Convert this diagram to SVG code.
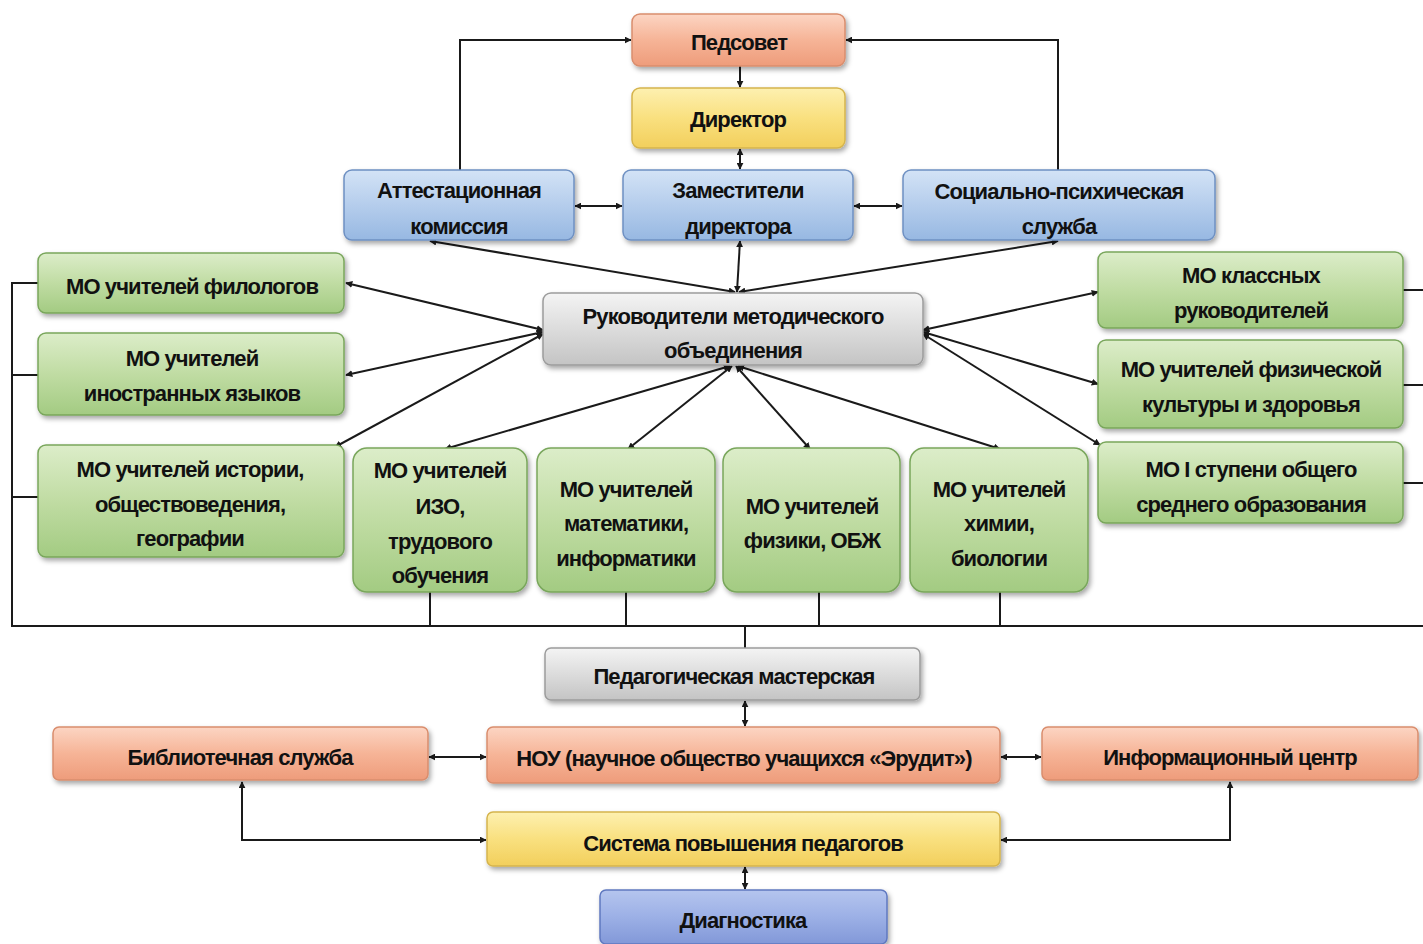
<svg xmlns="http://www.w3.org/2000/svg" width="1423" height="944" viewBox="0 0 1423 944">
<defs>
<linearGradient id="gSalmon" x1="0" y1="0" x2="0" y2="1"><stop offset="0" stop-color="#fcd5c3"/><stop offset="0.5" stop-color="#f6b497"/><stop offset="1" stop-color="#ee9c7b"/></linearGradient>
<linearGradient id="gYellow" x1="0" y1="0" x2="0" y2="1"><stop offset="0" stop-color="#fdf0b0"/><stop offset="0.5" stop-color="#f9e07f"/><stop offset="1" stop-color="#f2cf5c"/></linearGradient>
<linearGradient id="gBlue" x1="0" y1="0" x2="0" y2="1"><stop offset="0" stop-color="#d3e3f6"/><stop offset="0.5" stop-color="#b5cdec"/><stop offset="1" stop-color="#97b8e2"/></linearGradient>
<linearGradient id="gGreen" x1="0" y1="0" x2="0" y2="1"><stop offset="0" stop-color="#dcedc9"/><stop offset="0.5" stop-color="#c0dca3"/><stop offset="1" stop-color="#a3cb82"/></linearGradient>
<linearGradient id="gGray" x1="0" y1="0" x2="0" y2="1"><stop offset="0" stop-color="#f4f4f4"/><stop offset="0.5" stop-color="#dcdcdc"/><stop offset="1" stop-color="#c4c4c4"/></linearGradient>
<linearGradient id="gPeri" x1="0" y1="0" x2="0" y2="1"><stop offset="0" stop-color="#b5c5ee"/><stop offset="0.5" stop-color="#9cb0e6"/><stop offset="1" stop-color="#8298d8"/></linearGradient>
<filter id="sh" x="-10%" y="-20%" width="125%" height="150%"><feDropShadow dx="2" dy="3" stdDeviation="2.5" flood-color="#000" flood-opacity="0.35"/></filter>
<marker id="ah" viewBox="0 0 10 10" refX="9" refY="5" markerWidth="7" markerHeight="7" markerUnits="userSpaceOnUse" orient="auto-start-reverse"><path d="M0,0 L10,5 L0,10 z" fill="#1a1a1a"/></marker>
</defs>
<style>
.salmon{fill:url(#gSalmon);stroke:#d98d6d;stroke-width:1.5}
.yellow{fill:url(#gYellow);stroke:#d5b44d;stroke-width:1.5}
.blue{fill:url(#gBlue);stroke:#6e90c2;stroke-width:1.5}
.green{fill:url(#gGreen);stroke:#79a65b;stroke-width:1.5}
.gray{fill:url(#gGray);stroke:#9c9c9c;stroke-width:1.5}
.peri{fill:url(#gPeri);stroke:#5f78c0;stroke-width:1.5}
.box{filter:url(#sh)}
text{font-family:"Liberation Sans","DejaVu Sans",sans-serif;font-weight:bold;font-size:22px;fill:#111111;text-anchor:middle;letter-spacing:-0.9px}
.ln{fill:none;stroke:#1a1a1a;stroke-width:2}
.ar{fill:none;stroke:#1a1a1a;stroke-width:2;marker-end:url(#ah)}
.da{fill:none;stroke:#1a1a1a;stroke-width:2;marker-start:url(#ah);marker-end:url(#ah)}
</style>
<rect width="1423" height="944" fill="#ffffff"/>

<g id="connectors">
<path class="ar" d="M460,170 V40 H631"/>
<path class="ar" d="M1058,170 V40 H846"/>
<path class="ar" d="M740,66 V87"/>
<path class="da" d="M740,149 V169"/>
<path class="da" d="M575,206 H622"/>
<path class="da" d="M854,206 H902"/>
<path class="da" d="M735,292 L430,241"/>
<path class="da" d="M737,292 L740,241"/>
<path class="da" d="M739,292 L1058,241"/>
<path class="da" d="M543,330 L346,283"/>
<path class="da" d="M543,332 L346,375"/>
<path class="da" d="M543,334 L335,447"/>
<path class="da" d="M730,366 L445,449"/>
<path class="da" d="M732,366 L628,449"/>
<path class="da" d="M736,366 L810,449"/>
<path class="da" d="M738,366 L1000,449"/>
<path class="da" d="M923,330 L1098,292"/>
<path class="da" d="M923,332 L1098,384"/>
<path class="da" d="M923,334 L1100,445"/>
<path class="ln" d="M38,283 H12 V626 H1423"/>
<path class="ln" d="M38,375 H12"/>
<path class="ln" d="M38,497 H12"/>
<path class="ln" d="M430,592 V626"/>
<path class="ln" d="M626,592 V626"/>
<path class="ln" d="M819,592 V626"/>
<path class="ln" d="M1000,592 V626"/>
<path class="ln" d="M1403,290 H1423"/>
<path class="ln" d="M1403,385 H1423"/>
<path class="ln" d="M1403,483 H1423"/>
<path class="ln" d="M745,626 V648"/>
<path class="da" d="M745,701 V726"/>
<path class="da" d="M429,757 H486"/>
<path class="da" d="M1001,757 H1041"/>
<path class="da" d="M745,867 V889"/>
<path class="da" d="M242,782 V840 H486"/>
<path class="da" d="M1230,782 V840 H1001"/>
</g>

<g id="pedsovet"><rect class="box salmon" x="632" y="14" width="213" height="52" rx="8"/><text x="739" y="50">Педсовет</text></g>
<g id="director"><rect class="box yellow" x="632" y="88" width="213" height="60" rx="8"/><text x="738" y="127">Директор</text></g>
<g id="attest"><rect class="box blue" x="344" y="170" width="230" height="70" rx="8"/><text x="459" y="198">Аттестационная</text><text x="459" y="234">комиссия</text></g>
<g id="zam"><rect class="box blue" x="623" y="170" width="230" height="70" rx="8"/><text x="738" y="198">Заместители</text><text x="738" y="234">директора</text></g>
<g id="social"><rect class="box blue" x="903" y="170" width="312" height="70" rx="8"/><text x="1059" y="199">Социально-психическая</text><text x="1059" y="234">служба</text></g>

<g id="rukov"><rect class="box gray" x="543" y="293" width="380" height="72" rx="8"/><text x="733" y="324">Руководители методического</text><text x="733" y="358">объединения</text></g>

<g id="mo-filol"><rect class="box green" x="38" y="253" width="306" height="60" rx="8"/><text x="192" y="294">МО учителей филологов</text></g>
<g id="mo-inostr"><rect class="box green" x="38" y="333" width="306" height="82" rx="8"/><text x="192" y="366">МО учителей</text><text x="192" y="401">иностранных языков</text></g>
<g id="mo-istor"><rect class="box green" x="38" y="445" width="306" height="112" rx="8"/><text x="190" y="477">МО учителей истории,</text><text x="190" y="512">обществоведения,</text><text x="190" y="546">географии</text></g>

<g id="mo-izo"><rect class="box green" x="353" y="448" width="174" height="144" rx="14"/><text x="440" y="478">МО учителей</text><text x="440" y="514">ИЗО,</text><text x="440" y="549">трудового</text><text x="440" y="583">обучения</text></g>
<g id="mo-math"><rect class="box green" x="537" y="448" width="178" height="144" rx="14"/><text x="626" y="497">МО учителей</text><text x="626" y="531">математики,</text><text x="626" y="566">информатики</text></g>
<g id="mo-phys"><rect class="box green" x="723" y="448" width="177" height="144" rx="14"/><text x="812" y="514">МО учителей</text><text x="812" y="548">физики, ОБЖ</text></g>
<g id="mo-chem"><rect class="box green" x="910" y="448" width="178" height="144" rx="14"/><text x="999" y="497">МО учителей</text><text x="999" y="531">химии,</text><text x="999" y="566">биологии</text></g>

<g id="mo-class"><rect class="box green" x="1098" y="252" width="305" height="76" rx="8"/><text x="1251" y="283">МО классных</text><text x="1251" y="318">руководителей</text></g>
<g id="mo-fizkult"><rect class="box green" x="1098" y="340" width="305" height="88" rx="8"/><text x="1251" y="377">МО учителей физической</text><text x="1251" y="412">культуры и здоровья</text></g>
<g id="mo-stup"><rect class="box green" x="1098" y="442" width="305" height="81" rx="8"/><text x="1251" y="477">МО I ступени общего</text><text x="1251" y="512">среднего образования</text></g>

<g id="masterskaya"><rect class="box gray" x="545" y="648" width="375" height="52" rx="6"/><text x="734" y="684">Педагогическая мастерская</text></g>
<g id="biblio"><rect class="box salmon" x="53" y="727" width="375" height="53" rx="6"/><text x="240" y="765">Библиотечная служба</text></g>
<g id="nou"><rect class="box salmon" x="487" y="727" width="513" height="56" rx="6"/><text x="744" y="766">НОУ (научное общество учащихся «Эрудит»)</text></g>
<g id="infocenter"><rect class="box salmon" x="1042" y="727" width="376" height="53" rx="6"/><text x="1230" y="765">Информационный центр</text></g>
<g id="sistema"><rect class="box yellow" x="487" y="812" width="513" height="54" rx="6"/><text x="743" y="851">Система повышения педагогов</text></g>
<g id="diagn"><rect class="box peri" x="600" y="890" width="287" height="54" rx="6"/><text x="743" y="928">Диагностика</text></g>
</svg>
